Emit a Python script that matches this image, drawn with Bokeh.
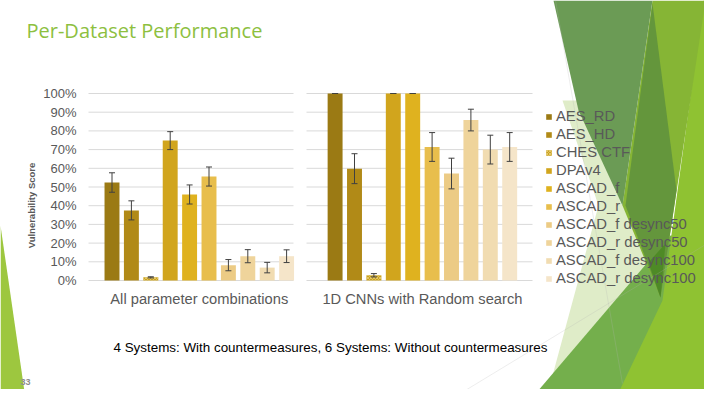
import math
from bokeh.plotting import figure
from bokeh.models import (ColumnDataSource, Range1d, Whisker, TeeHead, Label, PolyAnnotation)
from bokeh.core.properties import value
from bokeh.embed import file_html
from bokeh.resources import INLINE

# ---------------- data ----------------
groups = ["All parameter combinations", "1D CNNs with Random search"]
datasets = ["AES_RD", "AES_HD", "CHES CTF", "DPAv4", "ASCAD_f", "ASCAD_r",
            "ASCAD_f desync50", "ASCAD_r desync50", "ASCAD_f desync100", "ASCAD_r desync100"]
all_params = [0.524, 0.375, 0.017, 0.748, 0.460, 0.556, 0.082, 0.130, 0.069, 0.130]
all_params_err = [0.052, 0.051, 0.003, 0.048, 0.051, 0.051, 0.030, 0.035, 0.028, 0.034]
cnn_random = [1.000, 0.598, 0.028, 1.000, 1.000, 0.714, 0.572, 0.858, 0.700, 0.714]
cnn_random_err = [0.000, 0.080, 0.009, 0.000, 0.000, 0.077, 0.082, 0.058, 0.077, 0.077]
colors = ["#9b7a14", "#b18a17", "#c9a11f", "#d1a51d", "#dfb21f", "#e8be4c",
          "#eccb85", "#efd49b", "#f1dcb1", "#f5e5c9"]
y_ticks = [0.0, 0.1, 0.2, 0.3, 0.4, 0.5, 0.6, 0.7, 0.8, 0.9, 1.0]
y_tick_labels = ["0%", "10%", "20%", "30%", "40%", "50%", "60%", "70%", "80%", "90%", "100%"]

title_text = "Per-Dataset Performance"
y_title = "Vulnerability Score"
footnote = "4 Systems: With countermeasures, 6 Systems: Without countermeasures"
page_no = "33"

# ---------------- layout (slide pixels) ----------------
W, H = 704, 389
UNIT_PX = 19.4          # width of one category slot
U0_PX = 101.8           # slide x of the start of the first category slot
GROUP_PAD = 1.5         # gap between the two groups, in slots
Y0_PX, Y1_PX = 280.0, 93.0   # slide y of 0% and 100%
PANELS_PX = [(88, 293), (306, 532)]   # gridline extents of the two panels


def ux(px):
    return (px - U0_PX) / UNIT_PX


def vy(py):
    return (Y0_PX - py) / (Y0_PX - Y1_PX)


def sx(x):
    return x


def sy(y):
    return H - y


# ---------------- build table ----------------
n = len(datasets)
xpos, tops, uppers, lowers, cols, names, hatches = [], [], [], [], [], [], []
for gi, (vals, errs) in enumerate(zip([all_params, cnn_random], [all_params_err, cnn_random_err])):
    for k, (d, v, e, c) in enumerate(zip(datasets, vals, errs, colors)):
        xpos.append(gi * (n + GROUP_PAD) + k + 0.5)
        tops.append(v)
        uppers.append(v + e)
        lowers.append(v - e)
        cols.append(c)
        names.append(d)
        hatches.append("diagonal_cross" if d == "CHES CTF" else " ")
src = ColumnDataSource(dict(x=xpos, top=tops, upper=uppers, lower=lowers,
                            color=cols, dataset=names, hatch=hatches))
group_centers = [gi * (n + GROUP_PAD) + n / 2 for gi in range(len(groups))]

p = figure(width=W, height=H, output_backend="svg", toolbar_location=None,
           x_range=Range1d(ux(0), ux(W)), y_range=Range1d(vy(H), vy(0)),
           x_axis_location=None, y_axis_location=None, min_border=0)
p.outline_line_color = None
p.background_fill_color = "white"
p.border_fill_color = "white"
p.grid.visible = False

# decorative slide shapes
decor = [
    ([(0, 225), (26, 405), (0, 405)], "#9dc73f"),
    ([(562, 100), (600, 100), (660, 297), (548, 390), (598, 205)], "#dfecc8"),
    ([(525, 405), (670, 235), (720, 235), (720, 405)], "#74af4c"),
    ([(703, 0), (720, 0), (720, 405), (612, 405), (662, 300)], "#8fc232"),
    ([(652, 0), (705, 0), (660, 297), (622, 205)], "#86b535"),
    ([(553, 0), (652, 0), (622, 205), (578, 110)], "#6b9b55"),
    ([(652, 3), (625, 205), (660, 297), (676, 190)], "#64963c"),
    ([(648, 262), (665, 243), (660, 297)], "#4e8a26"),
]
for pts, col in decor:
    p.add_layout(PolyAnnotation(xs=[sx(a) for a, b in pts], ys=[sy(b) for a, b in pts],
                                xs_units="screen", ys_units="screen",
                                fill_color=col, fill_alpha=1, line_color=None, level="underlay"))
for pts in [[(555, 0), (622, 383)], [(440, 405), (720, 235)]]:
    p.add_layout(PolyAnnotation(xs=[sx(a) for a, b in pts], ys=[sy(b) for a, b in pts],
                                xs_units="screen", ys_units="screen",
                                fill_alpha=0, line_color="#b5b5b5", line_width=0.8, level="underlay"))

# gridlines (per panel)
g_x0, g_x1, g_y = [], [], []
for a, b in PANELS_PX:
    for t in y_ticks:
        g_x0.append(ux(a))
        g_x1.append(ux(b))
        g_y.append(t)
p.segment(x0=g_x0, x1=g_x1, y0=g_y, y1=g_y, line_color="#d9d9d9", line_width=1)

# bars
p.vbar(x="x", top="top", bottom=0, width=0.77, source=src, fill_color="color", line_color=None,
       hatch_pattern="hatch", hatch_color="#e8cf7a", hatch_scale=3, hatch_weight=0.8,
       legend_field="dataset")

wh = Whisker(source=src, base="x", upper="upper", lower="lower",
             line_color="#404040", line_width=1, level="annotation",
             upper_head=TeeHead(size=6, line_color="#404040", line_width=1),
             lower_head=TeeHead(size=6, line_color="#404040", line_width=1))
p.add_layout(wh)

# y tick labels
tick_src = ColumnDataSource(dict(y=y_ticks, label=y_tick_labels))
p.text(x=ux(PANELS_PX[0][0]), y="y", text="label", source=tick_src, x_offset=-12,
       text_align="right", text_baseline="middle", text_font=value("Liberation Sans"),
       text_font_size="13px", text_color="#595959")

# group labels
p.text(x=group_centers, y=[0.0] * len(groups), text=groups, y_offset=18,
       text_align="center", text_baseline="middle", text_font=value("Liberation Sans"),
       text_font_size="14.7px", text_color="#595959")

# legend
lg = p.legend[0]
lg.location = (sx(545), H - 286)
lg.label_text_font = "Liberation Sans"
lg.label_text_font_size = "14.8px"
lg.label_text_color = "#595959"
lg.glyph_width = 7
lg.glyph_height = 7
lg.label_height = 14
lg.label_standoff = 4
lg.spacing = 2
lg.padding = 0
lg.margin = 0
lg.border_line_color = None
lg.background_fill_alpha = 0

# texts
p.add_layout(Label(x=sx(26), y=sy(30), x_units="screen", y_units="screen", text=title_text,
                   text_font="Open Sans", text_font_size="20px", text_color="#8dc03f",
                   text_baseline="alphabetic"))
p.add_layout(Label(x=sx(31), y=sy(205), x_units="screen", y_units="screen", text=y_title,
                   angle=math.pi / 2, text_font="Liberation Sans", text_font_size="9.5px",
                   text_font_style="bold", text_color="#595959",
                   text_align="center", text_baseline="middle"))
p.add_layout(Label(x=sx(113), y=sy(347), x_units="screen", y_units="screen", text=footnote,
                   text_font="Liberation Sans", text_font_size="13.4px", text_color="#000000",
                   text_baseline="middle"))
p.add_layout(Label(x=sx(20), y=sy(381), x_units="screen", y_units="screen", text=page_no,
                   text_font="Liberation Sans", text_font_size="9px", text_font_style="bold",
                   text_color="#8c8c8c", text_baseline="middle"))

open("out.html", "w").write(file_html(p, INLINE))
